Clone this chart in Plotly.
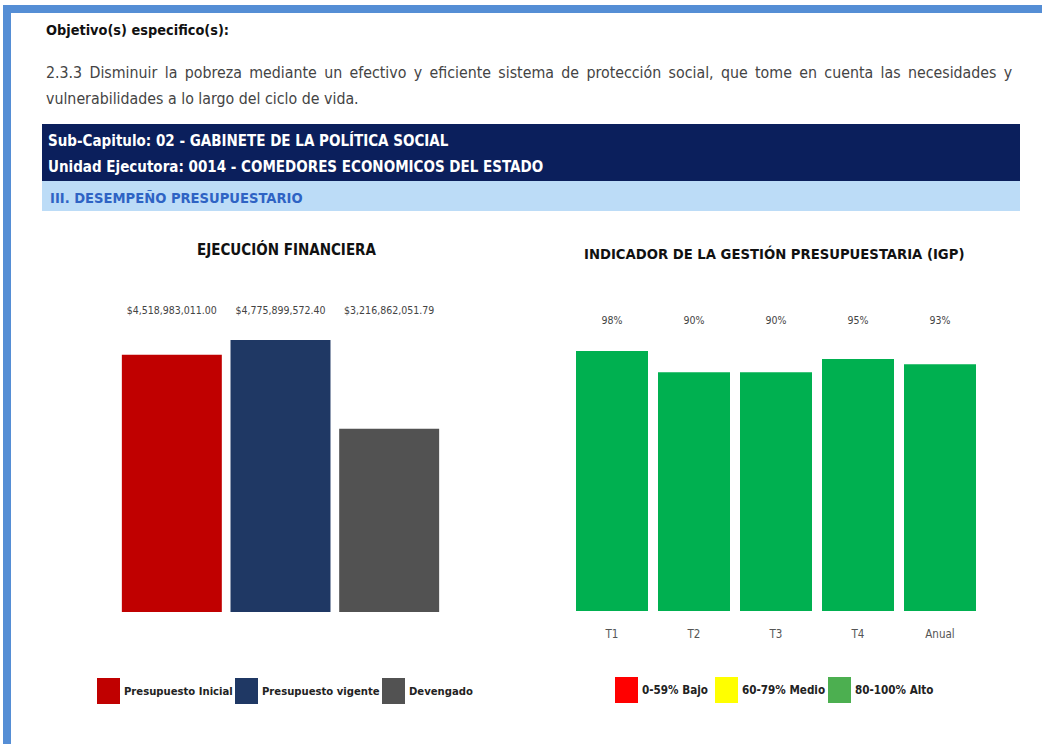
import plotly.graph_objects as go

# Data
fin_labels = ["Presupuesto Inicial", "Presupuesto vigente", "Devengado"]
fin_values = [4518983011.00, 4775899572.40, 3216862051.79]
fin_text = ["$4,518,983,011.00", "$4,775,899,572.40", "$3,216,862,051.79"]
fin_colors = ["#c00000", "#1f3864", "#525252"]

igp_periods = ["T1", "T2", "T3", "T4", "Anual"]
igp_values = [98, 90, 90, 95, 93]
igp_text = ["98%", "90%", "90%", "95%", "93%"]

igp_legend = ["0-59% Bajo", "60-79% Medio", "80-100% Alto"]
igp_legend_colors = ["#ff0000", "#ffff00", "#4caf50"]

W, H = 1042, 744
FONT = "Liberation Sans Narrow, DejaVu Sans Condensed, Arial Narrow, sans-serif"


def py(p):
    # pixel row -> paper y
    return 1 - p / H


def px(p):
    return p / W


fig = go.Figure()

# Ejecucion financiera bars
fig.add_trace(go.Bar(
    x=fin_labels, y=fin_values, marker=dict(color=fin_colors, line=dict(width=0)),
    xaxis="x", yaxis="y", showlegend=False, hoverinfo="x+y"
))
fig.add_trace(go.Scatter(
    x=fin_labels, y=[5.285e9] * 3, mode="text", text=fin_text,
    textfont=dict(family=FONT, size=10.5, color="#444444"),
    xaxis="x", yaxis="y", showlegend=False, hoverinfo="skip"
))

# IGP bars
fig.add_trace(go.Bar(
    x=igp_periods, y=igp_values, marker=dict(color="#00b050", line=dict(width=0)),
    xaxis="x2", yaxis="y2", showlegend=False
))
fig.add_trace(go.Scatter(
    x=igp_periods, y=[109.3] * 5, mode="text", text=igp_text,
    textfont=dict(family=FONT, size=10.5, color="#444444"),
    xaxis="x2", yaxis="y2", showlegend=False, hoverinfo="skip"
))

shapes = []
annotations = []

# page frame (left and top blue border)
shapes.append(dict(type="rect", xref="paper", yref="paper", x0=px(3), x1=px(11),
                   y0=0, y1=py(5), fillcolor="#558ed5", line=dict(width=0)))
shapes.append(dict(type="rect", xref="paper", yref="paper", x0=px(3), x1=1,
                   y0=py(13), y1=py(5), fillcolor="#558ed5", line=dict(width=0)))

# header bands
shapes.append(dict(type="rect", xref="paper", yref="paper", x0=px(42), x1=px(1020),
                   y0=py(181), y1=py(124), fillcolor="#0b1f5c", line=dict(width=0)))
shapes.append(dict(type="rect", xref="paper", yref="paper", x0=px(42), x1=px(1020),
                   y0=py(211), y1=py(181), fillcolor="#bcdcf7", line=dict(width=0)))


def text(x, y, s, size=13, color="#333333", bold=False, anchor="left"):
    annotations.append(dict(
        xref="paper", yref="paper", x=px(x), y=py(y), text=f"<b>{s}</b>" if bold else s,
        showarrow=False, xanchor=anchor, yanchor="middle",
        font=dict(family=FONT, size=size, color=color)
    ))


line1 = "2.3.3 Disminuir la pobreza mediante un efectivo y eficiente sistema de protección social, que tome en cuenta las necesidades y"
# hair spaces widen the gaps a little, like the justified original
line1 = line1.replace(" ", " \u200a\u200a")

text(44, 30, "Objetivo(s) especifico(s):", 14.4, "#111111", True)
text(44, 72, line1, 15.8, "#444444")
text(44, 98, "vulnerabilidades a lo largo del ciclo de vida.", 15.8, "#444444")
text(46, 140, "Sub-Capitulo: 02 - GABINETE DE LA POLÍTICA SOCIAL", 15, "#ffffff", True)
text(46, 167, "Unidad Ejecutora: 0014 - COMEDORES ECONOMICOS DEL ESTADO", 15, "#ffffff", True)
text(48, 197, "III. DESEMPEÑO PRESUPUESTARIO", 14.6, "#2e63c4", True)

text(287, 250, "EJECUCIÓN FINANCIERA", 15, "#111111", True, "center")
text(774, 254, "INDICADOR DE LA GESTIÓN PRESUPUESTARIA (IGP)", 14.7, "#111111", True, "center")

# legends
fin_leg_x = [97, 235, 382]
for xx, lab, col in zip(fin_leg_x, fin_labels, fin_colors):
    shapes.append(dict(type="rect", xref="paper", yref="paper", x0=px(xx), x1=px(xx + 23),
                       y0=py(704), y1=py(678), fillcolor=col, line=dict(width=0)))
    text(xx + 25, 691, lab, 11.2, "#222222", True)

igp_leg_x = [615, 715, 828]
for xx, lab, col in zip(igp_leg_x, igp_legend, igp_legend_colors):
    shapes.append(dict(type="rect", xref="paper", yref="paper", x0=px(xx), x1=px(xx + 23),
                       y0=py(703), y1=py(677), fillcolor=col, line=dict(width=0)))
    text(xx + 25, 690, lab, 11.6, "#222222", True)

fig.update_layout(
    width=W, height=H,
    margin=dict(l=0, r=0, t=0, b=0),
    paper_bgcolor="white", plot_bgcolor="white",
    font=dict(family=FONT),
    bargap=0.08,
    xaxis=dict(domain=[px(117.5), px(443.5)], showticklabels=False, showline=False,
               showgrid=False, zeroline=False, ticks="", anchor="y"),
    yaxis=dict(domain=[py(612), py(290)], range=[0, 5.654e9], visible=False,
               anchor="x"),
    xaxis2=dict(domain=[px(571), px(981)], showline=False, showgrid=False,
                zeroline=False, ticks="", anchor="y2", ticklabelstandoff=14,
                tickfont=dict(family=FONT, size=11.5, color="#555555")),
    yaxis2=dict(domain=[py(611), py(290)], range=[0, 121], visible=False,
                anchor="x2"),
    shapes=shapes,
    annotations=annotations,
)
fig.update_traces(selector=dict(type="bar", xaxis="x2"), width=0.878)

fig.write_html("out.html", config={"displayModeBar": False},
               post_script="document.body.style.margin='0';")
